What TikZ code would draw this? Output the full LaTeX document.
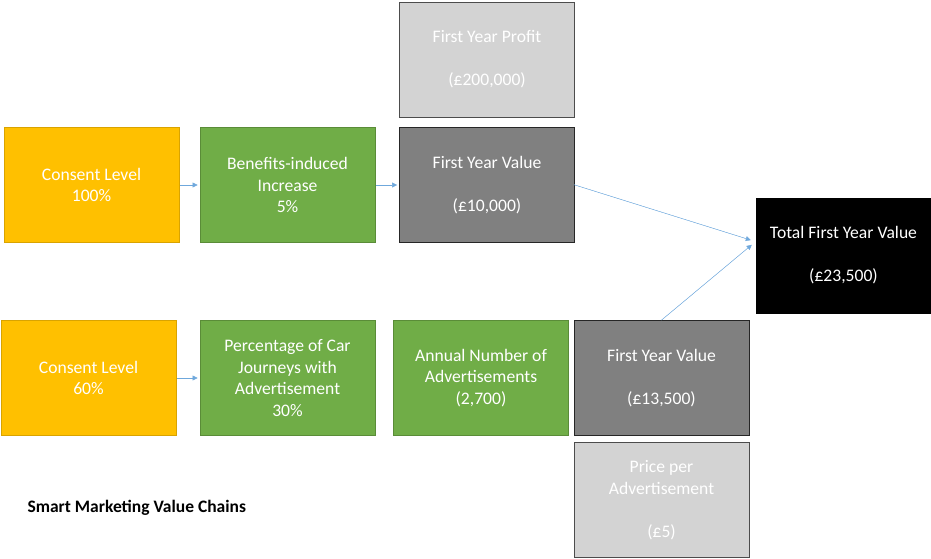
\documentclass[tikz,border=0pt]{standalone}
\usepackage{fontspec}
\setmainfont{Carlito}
\usetikzlibrary{arrows.meta}

\definecolor{amber}{HTML}{FFC000}
\definecolor{amberline}{HTML}{D9A300}
\definecolor{leaf}{HTML}{70AD47}
\definecolor{leafline}{HTML}{5A8C38}
\definecolor{slate}{HTML}{808080}
\definecolor{silver}{HTML}{D3D3D3}
\definecolor{linkblue}{HTML}{6FA8DC}

\begin{document}
\begin{tikzpicture}[x=1pt, y=-1pt,
  box/.style={rectangle, draw, line width=0.8pt, minimum width=175pt, minimum height=115pt,
    inner sep=0pt, align=center, text=white, font=\fontsize{17.6}{21.5}\selectfont},
  consentbox/.style={box, fill=amber, draw=amberline},
  factorbox/.style={box, fill=leaf, draw=leafline},
  valuebox/.style={box, fill=slate, draw=black!85},
  inputbox/.style={box, fill=silver, draw=black!70},
  totalbox/.style={box, fill=black, draw=black},
  link/.style={-{Triangle[length=5pt,width=5pt]}, draw=linkblue, fill=linkblue, line width=0.45pt}]
  \useasboundingbox (0,0) rectangle (931,558);

  % First chain
  \node[consentbox] (consentA) at (91.5,185) {Consent Level\\100\%};
  \node[factorbox] (benefits) at (287.5,185) {Benefits-induced\\Increase\\5\%};
  \node[valuebox] (valueA) at (487,185) {First Year Value\\[21.5pt](£10,000)};
  \node[inputbox] (profit) at (487,59.5) {First Year Profit\\[21.5pt](£200,000)};

  % Total
  \node[totalbox] (total) at (843.5,255.5) {Total First Year Value\\[21.5pt](£23,500)};

  % Second chain
  \node[consentbox] (consentB) at (88.5,378) {Consent Level\\60\%};
  \node[factorbox] (journeys) at (287.5,378) {Percentage of Car\\Journeys with\\Advertisement\\30\%};
  \node[factorbox] (adverts) at (481,378) {Annual Number of\\Advertisements\\(2,700)};
  \node[valuebox] (valueB) at (661.5,378) {First Year Value\\[21.5pt](£13,500)};
  \node[inputbox] (price) at (661.5,500) {Price per\\Advertisement\\[21.5pt](£5)};

  % Title
  \node[anchor=west, font=\bfseries\fontsize{17.5}{20}\selectfont] (title) at (24,507.5) {Smart Marketing Value Chains};

  % Connect nodes
  \draw[link, shorten <=1pt, shorten >=2pt] (consentA) -- (benefits);
  \draw[link, shorten <=1pt, shorten >=2pt] (benefits) -- (valueA);
  \draw[link, shorten <=1pt, shorten >=2pt] (consentB) -- (journeys);
  \draw[link, shorten <=-1pt, shorten >=5pt] (valueA.east) -- (total.171.6);
  \draw[link, shorten >=5pt] (valueB.north) -- (total.171.6);
\end{tikzpicture}
\end{document}
